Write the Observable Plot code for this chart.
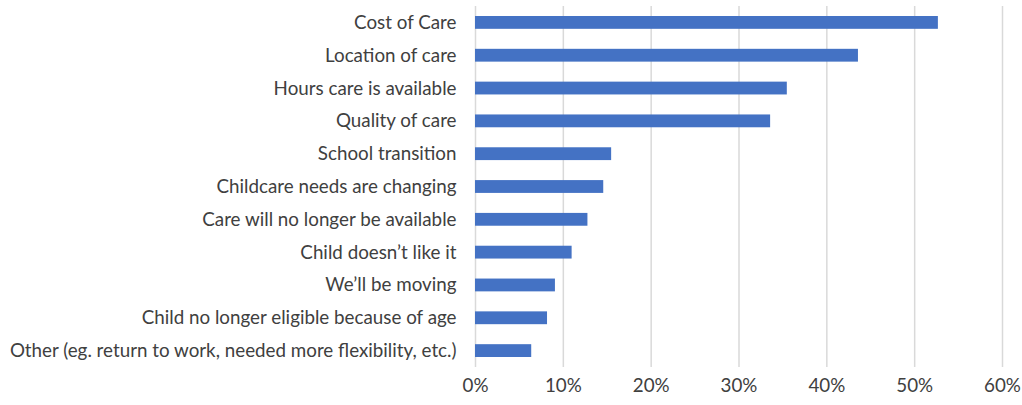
<!DOCTYPE html>
<html>
<head>
<meta charset="utf-8">
<script src="https://cdn.jsdelivr.net/npm/d3@7"></script>
<script src="https://cdn.jsdelivr.net/npm/@observablehq/plot@0.6"></script>
<style>
  html, body { margin: 0; padding: 0; background: #fff; }
  #chart { width: 1022px; height: 405px; }
</style>
</head>
<body>
<div id="chart"></div>
<script>
const categories = [
  "Cost of Care",
  "Location of care",
  "Hours care is available",
  "Quality of care",
  "School transition",
  "Childcare needs are changing",
  "Care will no longer be available",
  "Child doesn\u2019t like it",
  "We\u2019ll be moving",
  "Child no longer eligible because of age",
  "Other (eg. return to work, needed more flexibility, etc.)"
];
const values = [0.527, 0.436, 0.355, 0.336, 0.155, 0.146, 0.128, 0.110, 0.091, 0.082, 0.064];
const xTicks = [0, 0.1, 0.2, 0.3, 0.4, 0.5, 0.6];

const data = categories.map((c, i) => ({category: c, value: values[i]}));

const chart = Plot.plot({
  width: 1022,
  height: 405,
  marginLeft: 475,
  marginRight: 20,
  marginTop: 6,
  marginBottom: 38,
  style: {fontFamily: "Lato, sans-serif", fontSize: "18.8px", color: "#404040", background: "#fff"},
  x: {domain: [0, 0.6], ticks: xTicks, tickFormat: d3.format(".0%"), label: null},
  y: {domain: categories, padding: 0, round: false, label: null},
  marks: [
    Plot.gridX(xTicks, {stroke: "#d9d9d9", strokeOpacity: 1, strokeWidth: 1.5}),
    Plot.barX(data, {x: "value", y: "category", fill: "#4472C4", insetTop: 10, insetBottom: 10}),
    Plot.axisX({ticks: xTicks, tickFormat: d3.format(".0%"), tickSize: 0, tickPadding: 11, fontSize: 18.8, label: null}),
    Plot.axisY({tickSize: 0, tickPadding: 19, fontSize: 18.8, label: null})
  ]
});
document.getElementById("chart").appendChild(chart);
</script>
</body>
</html>
